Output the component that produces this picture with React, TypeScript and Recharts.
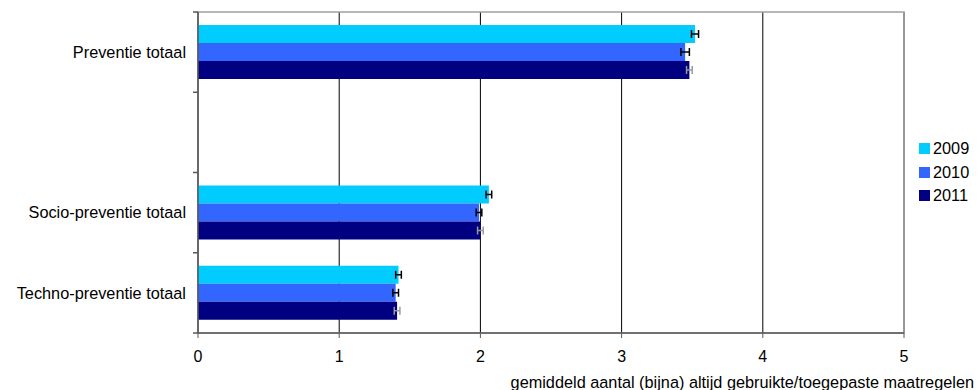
import React from 'react';
import {
  BarChart,
  Bar,
  XAxis,
  YAxis,
  CartesianGrid,
  ErrorBar,
  ReferenceArea,
} from 'recharts';

const categories = ['Preventie totaal', '', 'Socio-preventie totaal', 'Techno-preventie totaal'];
const years = ['2009', '2010', '2011'];
const values2009 = [3.52, null, 2.06, 1.42];
const values2010 = [3.45, null, 1.99, 1.4];
const values2011 = [3.48, null, 2.0, 1.41];
const err2009 = [0.025, null, 0.02, 0.02];
const err2010 = [0.03, null, 0.02, 0.02];
const err2011 = [0.02, null, 0.02, 0.02];
const xTicks = [0, 1, 2, 3, 4, 5];
const xLabel = 'gemiddeld aantal (bijna) altijd gebruikte/toegepaste maatregelen';

const colors = ['#00CCFF', '#3366FF', '#000080'];
const errColors = ['#000000', '#000000', '#9a9a9a'];
const FONT = '"Liberation Sans", Arial, sans-serif';

const data = categories.map((name, i) => ({
  name,
  y2009: values2009[i],
  y2010: values2010[i],
  y2011: values2011[i],
  e2009: err2009[i],
  e2010: err2010[i],
  e2011: err2011[i],
}));

// labels centred on the band, tick marks on the band edges
function CategoryTick(props: any) {
  const { x, y, payload, index, visibleTicksCount } = props;
  const half = payload.offset || 40;
  const last = index === visibleTicksCount - 1;
  return (
    <g>
      <line x1={x - 5} x2={x} y1={y - half} y2={y - half} stroke="#595959" strokeWidth={1.5} />
      {last && <line x1={x - 5} x2={x} y1={y + half} y2={y + half} stroke="#595959" strokeWidth={1.5} />}
      <text x={x - 12} y={y} dy="0.35em" textAnchor="end" fontSize={16.3} fill="#000" fontFamily={FONT}>
        {payload.value}
      </text>
    </g>
  );
}

export default function App() {
  return (
    <div style={{ position: 'absolute', left: 0, top: 0, width: 980, height: 390, fontFamily: FONT, background: '#fff' }}>
      <BarChart
        width={980}
        height={390}
        data={data}
        layout="vertical"
        margin={{ top: 12, right: 76, left: 0, bottom: 0 }}
        barSize={18}
        barGap={0}
      >
        <CartesianGrid horizontal={false} stroke="#000" strokeWidth={1} />
        <ReferenceArea x1={0} x2={5} fill="none" stroke="#a0a0a0" strokeWidth={1.5} />
        <XAxis
          type="number"
          domain={[0, 5]}
          ticks={xTicks}
          height={57}
          tickSize={5}
          tickMargin={13}
          stroke="#595959"
          axisLine={{ stroke: '#595959', strokeWidth: 1.5 }}
          tick={{ fill: '#000', fontSize: 16, fontFamily: FONT }}
          label={{
            content: (p: any) => (
              <text
                x={p.viewBox.x + p.viewBox.width + 70}
                y={p.viewBox.y + 49}
                dy="0.35em"
                textAnchor="end"
                fontSize={16.3}
                fill="#000"
                fontFamily={FONT}
              >
                {xLabel}
              </text>
            ),
          }}
        />
        <YAxis
          type="category"
          dataKey="name"
          width={198}
          interval={0}
          tickLine={false}
          tickSize={0}
          tickMargin={0}
          axisLine={{ stroke: '#595959', strokeWidth: 1.5 }}
          tick={<CategoryTick />}
        />
        {years.map((yr, i) => (
          <Bar key={yr} dataKey={`y${yr}`} name={yr} fill={colors[i]} isAnimationActive={false}>
            <ErrorBar dataKey={`e${yr}`} direction="x" width={4} stroke={errColors[i]} strokeWidth={1.5} />
          </Bar>
        ))}
      </BarChart>
      <div style={{ position: 'absolute', left: 919, top: 137, fontSize: 16.3, color: '#000' }}>
        {years.map((yr, i) => (
          <div key={yr} style={{ display: 'flex', alignItems: 'center', height: 23.5 }}>
            <span style={{ width: 11, height: 11, background: colors[i], marginRight: 3, display: 'inline-block' }} />
            <span>{yr}</span>
          </div>
        ))}
      </div>
    </div>
  );
}
